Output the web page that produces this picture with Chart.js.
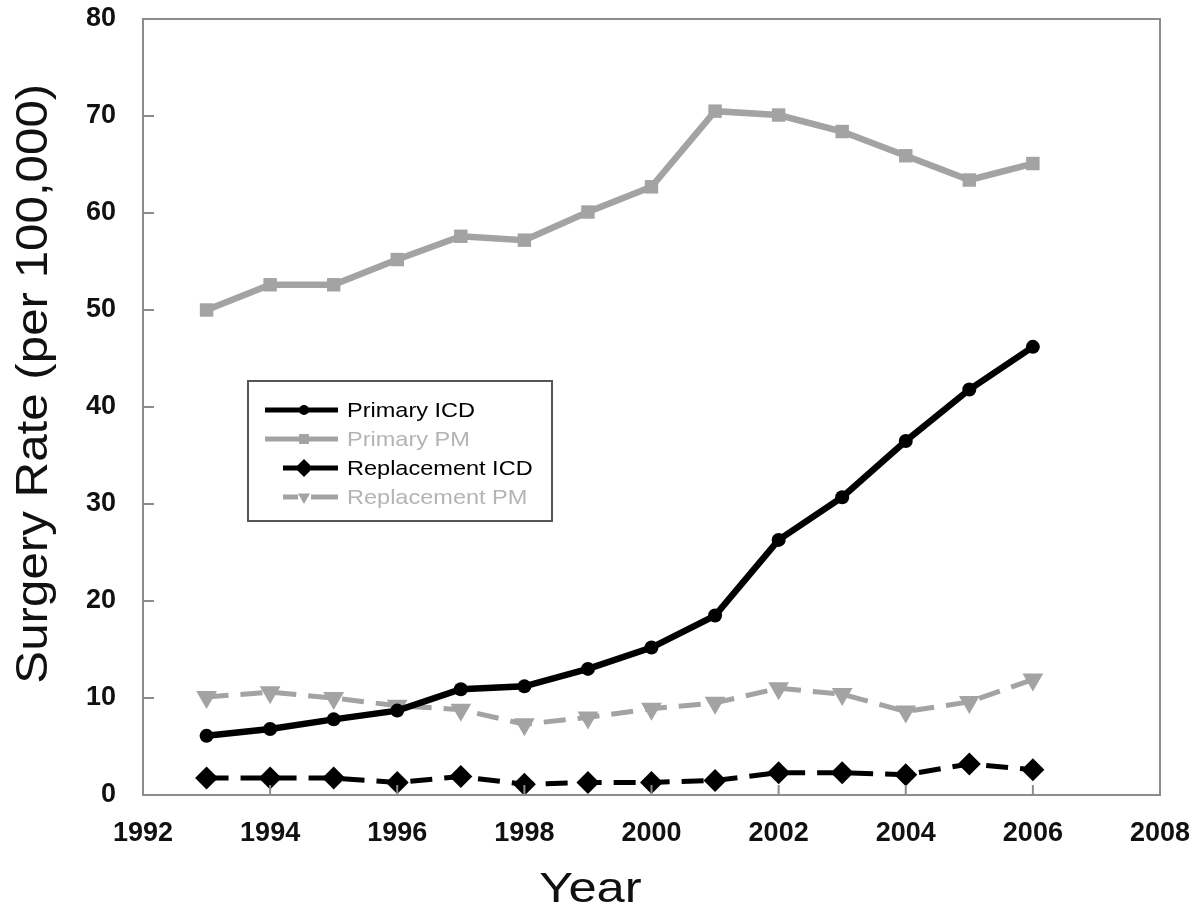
<!DOCTYPE html>
<html>
<head>
<meta charset="utf-8">
<script src="https://cdn.jsdelivr.net/npm/chart.js@4.4.0/dist/chart.umd.min.js"></script>
<style>
  body { margin: 0; background: #fff; }
  #wrap { width: 1196px; height: 903px; }
</style>
</head>
<body>
<div id="wrap"><canvas id="myChart" width="1196" height="903"></canvas></div>
<script>
// data
const years = [1993, 1994, 1995, 1996, 1997, 1998, 1999, 2000, 2001, 2002, 2003, 2004, 2005, 2006];
const primaryICD = [6.1, 6.8, 7.8, 8.7, 10.9, 11.2, 13.0, 15.2, 18.5, 26.3, 30.7, 36.5, 41.8, 46.2];
const primaryPM = [50.0, 52.6, 52.6, 55.2, 57.6, 57.2, 60.1, 62.7, 70.5, 70.1, 68.4, 65.9, 63.4, 65.1];
const replacementICD = [1.75, 1.75, 1.75, 1.3, 1.9, 1.1, 1.3, 1.3, 1.5, 2.3, 2.3, 2.1, 3.2, 2.6];
const replacementPM = [10.1, 10.6, 10.0, 9.2, 8.8, 7.3, 8.0, 8.9, 9.5, 11.0, 10.4, 8.6, 9.6, 11.9];
const seriesNames = ['Primary ICD', 'Primary PM', 'Replacement ICD', 'Replacement PM'];
const xTitle = 'Year';
const yTitle = 'Surgery Rate (per 100,000)';

const BLACK = '#000000';
const GRAY = '#a3a3a3';
const AXIS = '#8c8c8c';
const FONT = '"Liberation Sans", Arial, sans-serif';

function pts(vals) {
  return years.map((y, i) => ({ x: y, y: vals[i] }));
}

const data = {
  datasets: [
    {
      label: seriesNames[0], data: pts(primaryICD),
      borderColor: BLACK, backgroundColor: BLACK, borderWidth: 6.5,
      pointStyle: 'circle', pointRadius: 7, pointBorderWidth: 0, tension: 0
    },
    {
      label: seriesNames[1], data: pts(primaryPM),
      borderColor: GRAY, backgroundColor: GRAY, borderWidth: 6.5,
      pointStyle: 'rect', pointRadius: 9.5, pointBorderWidth: 0, tension: 0
    },
    {
      label: seriesNames[2], data: pts(replacementICD),
      borderColor: BLACK, backgroundColor: BLACK, borderWidth: 5, borderDash: [22, 12],
      pointStyle: 'rectRot', pointRadius: 11.5, pointBorderWidth: 0, tension: 0
    },
    {
      label: seriesNames[3], data: pts(replacementPM),
      borderColor: GRAY, backgroundColor: GRAY, borderWidth: 5, borderDash: [22, 12],
      pointStyle: 'triangle', pointRotation: 180, pointRadius: 12, pointBorderWidth: 0, tension: 0
    }
  ]
};

// frame, inside ticks and axis titles
const frame = {
  id: 'frame',
  afterDraw(chart) {
    const { ctx, chartArea: a, scales } = chart;
    ctx.save();
    ctx.strokeStyle = AXIS;
    ctx.lineWidth = 2;
    ctx.strokeRect(a.left, a.top, a.right - a.left, a.bottom - a.top);
    ctx.beginPath();
    scales.x.ticks.forEach(t => {
      const px = scales.x.getPixelForValue(t.value);
      ctx.moveTo(px, a.bottom);
      ctx.lineTo(px, a.bottom - 10);
    });
    scales.y.ticks.forEach(t => {
      const py = scales.y.getPixelForValue(t.value);
      ctx.moveTo(a.left, py);
      ctx.lineTo(a.left + 11, py);
    });
    ctx.stroke();

    // axis titles
    ctx.fillStyle = '#111';
    ctx.textAlign = 'center';
    ctx.textBaseline = 'alphabetic';
    ctx.save();
    ctx.translate(a.left + (a.right - a.left) * 0.44, 902);
    ctx.scale(1.18, 1);
    ctx.font = '43px ' + FONT;
    ctx.fillText(xTitle, 0, 0);
    ctx.restore();
    ctx.translate(47, a.top + (a.bottom - a.top) * 0.47);
    ctx.rotate(-Math.PI / 2);
    ctx.scale(1.12, 1);
    ctx.font = '44px ' + FONT;
    ctx.fillText(yTitle, 0, 0);
    ctx.restore();
  }
};

// legend box drawn inside the plot
const boxLegend = {
  id: 'boxLegend',
  afterDatasetsDraw(chart) {
    const { ctx, chartArea: a } = chart;
    const x0 = a.left + 105, y0 = a.top + 362;
    const w = 304, h = 140;
    ctx.save();
    ctx.fillStyle = '#fff';
    ctx.fillRect(x0, y0, w, h);
    ctx.strokeStyle = '#555';
    ctx.lineWidth = 2;
    ctx.strokeRect(x0, y0, w, h);
    ctx.textBaseline = 'middle';
    chart.data.datasets.forEach((ds, i) => {
      const y = y0 + 29 + i * 29;
      const dashed = !!ds.borderDash;
      const lx0 = dashed ? x0 + 35 : x0 + 17;
      const lx1 = x0 + 90;
      const mx = x0 + 56;
      ctx.strokeStyle = ds.borderColor;
      ctx.lineWidth = 5;
      ctx.beginPath();
      if (dashed) {
        ctx.moveTo(lx0, y); ctx.lineTo(mx - 6, y);
        ctx.moveTo(mx + 7, y); ctx.lineTo(lx1, y);
      } else {
        ctx.moveTo(lx0, y); ctx.lineTo(lx1, y);
      }
      ctx.stroke();
      ctx.fillStyle = ds.backgroundColor;
      Chart.helpers.drawPoint(ctx, {
        pointStyle: ds.pointStyle, rotation: ds.pointRotation || 0,
        radius: ds.pointStyle === 'circle' ? 5 : (ds.pointStyle === 'rectRot' ? 9 : 7), borderWidth: 0
      }, mx, y);
      ctx.fillStyle = ds.borderColor === GRAY ? '#b4b4b4' : '#000';
      ctx.save();
      ctx.translate(x0 + 99, y + 1);
      ctx.scale(1.12, 1);
      ctx.font = '21px ' + FONT;
      ctx.fillText(ds.label, 0, 0);
      ctx.restore();
    });
    ctx.restore();
  }
};

const config = {
  type: 'line',
  data,
  options: {
    responsive: false,
    animation: false,
    layout: { padding: { top: 19, right: 36, bottom: 0, left: 0 } },
    plugins: {
      legend: { display: false },
      tooltip: { enabled: false }
    },
    scales: {
      x: {
        type: 'linear', min: 1992, max: 2008,
        afterFit: s => { s.height = 108; s.paddingLeft = 0; s.paddingRight = 0; },
        ticks: { stepSize: 2, color: '#111', padding: 22, maxRotation: 0,
          font: { family: FONT, size: 27, weight: 'bold' },
          callback: v => String(v) },
        grid: { display: false, drawTicks: false },
        border: { display: false }
      },
      y: {
        min: 0, max: 80,
        afterFit: s => { s.width = 143; s.paddingTop = 0; s.paddingBottom = 0; },
        ticks: { stepSize: 10, color: '#111', padding: 27,
          font: { family: FONT, size: 27, weight: 'bold' } },
        grid: { display: false, drawTicks: false },
        border: { display: false }
      }
    }
  },
  plugins: [frame, boxLegend]
};

const myChart = new Chart(document.getElementById('myChart'), config);
</script>
</body>
</html>
